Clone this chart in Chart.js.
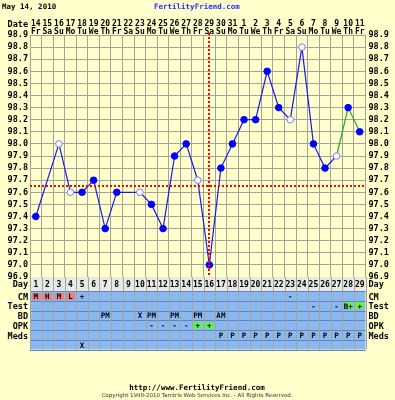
<!DOCTYPE html>
<html>
<head>
<meta charset="utf-8">
<script src="https://cdn.jsdelivr.net/npm/chart.js@4.4.0/dist/chart.umd.min.js"></script>
<style>
  html, body { margin: 0; padding: 0; background: #ffffcc; }
  canvas { display: block; }
</style>
</head>
<body>
<canvas id="bbt" width="395" height="400"></canvas>
<script>
//-- chart header ---->
var chartDate = 'May 14, 2010';
var siteName = 'FertilityFriend.com';
var siteUrl = 'http://www.FertilityFriend.com';
var copyright = 'Copyright 1998-2010 Tamtris Web Services Inc. - All Rights Reserved.';

//-- top axis (date + weekday) ---->
var dayOfMonth = ['14','15','16','17','18','19','20','21','22','23','24','25','26','27','28',
                  '29','30','31','1','2','3','4','5','6','7','8','9','10','11'];
var weekDay    = ['Fr','Sa','Su','Mo','Tu','We','Th','Fr','Sa','Su','Mo','Tu','We','Th','Fr',
                  'Sa','Su','Mo','Tu','We','Th','Fr','Sa','Su','Mo','Tu','We','Th','Fr'];
var cycleDay   = ['1','2','3','4','5','6','7','8','9','10','11','12','13','14','15',
                  '16','17','18','19','20','21','22','23','24','25','26','27','28','29'];

//-- temperatures (null = not recorded) ---->
var temps = [97.4, null, 98.0, 97.6, 97.6, 97.7, 97.3, 97.6, null, 97.6, 97.5, 97.3, 97.9, 98.0, 97.7,
             97.0, 97.8, 98.0, 98.2, 98.2, 98.6, 98.3, 98.2, 98.8, 98.0, 97.8, 97.9, 98.3, 98.1];
var openDays = [3, 4, 10, 15, 23, 24, 27];   //-- discarded temps (hollow points)
var tempMin = 96.9;
var tempMax = 98.9;
var tempStep = 0.1;
var coverline = 97.65;
var ovulationDay = 16;
var greenFromDay = 27;

//-- table rows under the chart ---->
var rowNames = ['CM', 'Test', 'BD', 'OPK', 'Meds', ''];
var cmRow   = ['M','H','M','L','+','','','','','','','','','','','','','','','','','','-','','','','','',''];
var testRow = ['','','','','','','','','','','','','','','','','','','','','','','','','-','','-','B+','+'];
var bdRow   = ['','','','','','','PM','','','X','PM','','PM','','PM','','AM','','','','','','','','','','','',''];
var opkRow  = ['','','','','','','','','','','-','-','-','-','+','+','','','','','','','','','','','','',''];
var medsRow = ['','','','','','','','','','','','','','','','','P','P','P','P','P','P','P','P','P','P','P','P','P'];
var noteRow = ['','','','','X','','','','','','','','','','','','','','','','','','','','','','','',''];
var tableRows = [cmRow, testRow, bdRow, opkRow, medsRow, noteRow];

var gridColor = '#a3a39a';
var monoFont = '"DejaVu Sans Mono", monospace';

function isOpen(i) { return openDays.indexOf(i + 1) >= 0; }

//-------------------------------- extra drawing: lines, table, texts ---------------------------->
var ffExtras = {
    id: 'ffExtras',
    afterDatasetsDraw: function (chart) {
        var ctx = chart.ctx, area = chart.chartArea;
        var x = chart.scales.x, y = chart.scales.y;
        ctx.save();
        ctx.strokeStyle = '#ff0000';
        ctx.lineWidth = 2;
        ctx.setLineDash([2, 2]);
        // coverline
        var cy = Math.round(y.getPixelForValue(coverline));
        ctx.beginPath();
        ctx.moveTo(area.left, cy);
        ctx.lineTo(area.right, cy);
        ctx.stroke();
        // ovulation line
        var ox = Math.round(x.getPixelForValue(ovulationDay - 1));
        ctx.beginPath();
        ctx.moveTo(ox, area.top - 2);
        ctx.lineTo(ox, area.bottom);
        ctx.stroke();
        ctx.restore();
    },
    afterDraw: function (chart) {
        var ctx = chart.ctx, area = chart.chartArea, x = chart.scales.x;
        var colW = (area.right - area.left) / cycleDay.length;
        var dayTop = area.bottom, dayH = 14, rowH = 9.75;
        var rowsTop = dayTop + dayH;
        var tableBottom = rowsTop + rowH * tableRows.length;
        ctx.save();

        // backgrounds
        ctx.fillStyle = '#e8e8e4';
        ctx.fillRect(area.left, dayTop, area.right - area.left, dayH);
        ctx.fillStyle = '#8cb8f0';
        ctx.fillRect(area.left, rowsTop, area.right - area.left, tableBottom - rowsTop);

        // highlighted cells
        for (var r = 0; r < tableRows.length; r++) {
            for (var c = 0; c < cycleDay.length; c++) {
                var v = tableRows[r][c];
                var fill = null;
                if (r == 0 && (v == 'H' || v == 'M' || v == 'L')) fill = '#f08080';
                if ((r == 1 || r == 3) && v.indexOf('+') >= 0) fill = '#66ee55';
                if (fill) {
                    var cx = x.getPixelForValue(c);
                    ctx.fillStyle = fill;
                    ctx.fillRect(Math.round(cx - colW / 2 + 1.5), Math.round(rowsTop + r * rowH + 1.5),
                                 Math.round(colW - 3), Math.round(rowH - 2.5));
                }
            }
        }

        // row separators
        ctx.strokeStyle = '#5f84c4';
        ctx.lineWidth = 1;
        for (var r2 = 0; r2 <= tableRows.length; r2++) {
            var ly = Math.round(rowsTop + r2 * rowH) + 0.5;
            ctx.beginPath();
            ctx.moveTo(area.left, ly);
            ctx.lineTo(area.right, ly);
            ctx.stroke();
        }
        // column lines
        ctx.strokeStyle = gridColor;
        for (var c2 = 0; c2 <= cycleDay.length; c2++) {
            var lx = Math.round(area.left + c2 * colW) + 0.5;
            ctx.beginPath();
            ctx.moveTo(lx, dayTop);
            ctx.lineTo(lx, tableBottom);
            ctx.stroke();
        }

        // texts
        ctx.fillStyle = '#000';
        ctx.textBaseline = 'middle';
        ctx.textAlign = 'center';
        ctx.font = 'bold 8px ' + monoFont;
        for (var d = 0; d < cycleDay.length; d++) {
            ctx.fillText(cycleDay[d], x.getPixelForValue(d), dayTop + 7.5);
        }
        ctx.font = 'bold 7.5px ' + monoFont;
        for (var r3 = 0; r3 < tableRows.length; r3++) {
            for (var c3 = 0; c3 < cycleDay.length; c3++) {
                if (tableRows[r3][c3]) {
                    ctx.fillText(tableRows[r3][c3], x.getPixelForValue(c3), rowsTop + r3 * rowH + rowH / 2 + 1);
                }
            }
        }

        // row names left and right
        ctx.font = 'bold 8.5px ' + monoFont;
        var names = ['Day'].concat(rowNames);
        for (var n = 0; n < names.length; n++) {
            var ny = n == 0 ? dayTop + 8 : rowsTop + (n - 1) * rowH + rowH / 2 + 1.5;
            ctx.textAlign = 'right';
            if (names[n]) ctx.fillText(names[n], area.left - 2, ny);
            ctx.textAlign = 'left';
            if (names[n]) ctx.fillText(names[n], area.right + 3, ny);
        }
        ctx.textAlign = 'right';
        ctx.fillText('Date', area.left - 2, 25);

        // header
        ctx.textAlign = 'left';
        ctx.font = 'bold 7.5px ' + monoFont;
        ctx.fillText(chartDate, 2, 7);
        ctx.fillStyle = '#2a2aff';
        ctx.fillText(siteName, 154, 7);

        // footer
        ctx.fillStyle = '#000';
        ctx.textAlign = 'center';
        ctx.fillText(siteUrl, 197, 388);
        ctx.font = '5.5px "DejaVu Sans", sans-serif';
        ctx.fillStyle = '#333';
        ctx.fillText(copyright, 197, 396);
        ctx.restore();
    }
};

//-------------------------------- BBT chart ---------------------------->
var chart = new Chart(document.getElementById('bbt'), {
    type: 'line',
    data: {
        labels: dayOfMonth.map(function (d, i) { return [d, weekDay[i]]; }),
        datasets: [{
            data: temps,
            spanGaps: true,
            tension: 0,
            borderColor: '#1818f0',
            borderWidth: 1.2,
            pointRadius: 3.3,
            pointHoverRadius: 3.3,
            pointBorderWidth: 1,
            pointBackgroundColor: function (c) { return isOpen(c.dataIndex) ? '#ffffff' : '#0000ff'; },
            pointBorderColor: function (c) { return isOpen(c.dataIndex) ? '#7c7cff' : '#0000ff'; },
            segment: {
                borderDash: function (c) { return c.p1DataIndex - c.p0DataIndex > 1 ? [2, 3] : undefined; },
                borderColor: function (c) { return c.p0DataIndex >= greenFromDay - 1 ? '#22aa22' : undefined; }
            }
        }]
    },
    options: {
        responsive: false,
        animation: false,
        devicePixelRatio: 1,
        layout: { padding: { top: 0, bottom: 123, left: 0, right: 0 } },
        plugins: { legend: { display: false }, tooltip: { enabled: false } },
        scales: {
            x: {
                position: 'top',
                offset: true,
                grid: { color: gridColor, drawTicks: false, offset: true },
                border: { color: gridColor },
                ticks: { autoSkip: false, maxRotation: 0, padding: -1, color: '#000',
                         font: { family: monoFont, size: 8, weight: 'bold', lineHeight: 1 } },
                afterFit: function (s) { s.height = 35; }
            },
            y: {
                min: tempMin, max: tempMax,
                grid: { color: gridColor, drawTicks: false },
                border: { color: gridColor },
                ticks: { stepSize: tempStep, autoSkip: false, padding: 2, color: '#000',
                         font: { family: monoFont, size: 8.5, weight: 'bold' },
                         callback: function (v) { return v.toFixed(1); } },
                afterFit: function (s) { s.width = 30; }
            },
            y2: {
                position: 'right',
                min: tempMin, max: tempMax,
                grid: { display: false, drawTicks: false },
                border: { color: gridColor },
                ticks: { stepSize: tempStep, autoSkip: false, padding: 3, color: '#000',
                         font: { family: monoFont, size: 8.5, weight: 'bold' },
                         callback: function (v) { return v.toFixed(1); } },
                afterFit: function (s) { s.width = 29.5; }
            }
        }
    },
    plugins: [ffExtras]
});
</script>
</body>
</html>
